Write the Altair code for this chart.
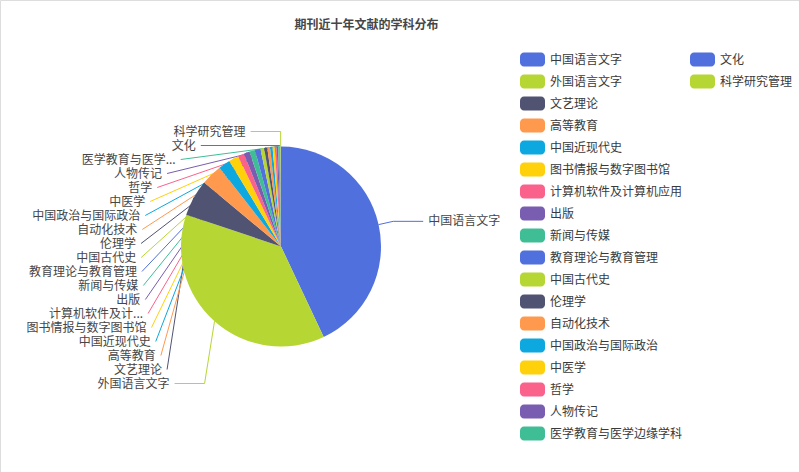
import math
import altair as alt
import pandas as pd

# ---------------- data ----------------
title_text = "期刊近十年文献的学科分布"

categories = [
    "中国语言文字", "外国语言文字", "文艺理论", "高等教育", "中国近现代史",
    "图书情报与数字图书馆", "计算机软件及计算机应用", "出版", "新闻与传媒",
    "教育理论与教育管理", "中国古代史", "伦理学", "自动化技术",
    "中国政治与国际政治", "中医学", "哲学", "人物传记",
    "医学教育与医学边缘学科", "文化", "科学研究管理",
]
values = [860, 744, 118, 68, 38, 32, 20, 19, 18, 18, 12, 10, 9, 8, 7, 6, 5, 4, 3, 2]

# labels as displayed beside the pie (two are shortened in the original)
pie_labels = [
    "中国语言文字", "外国语言文字", "文艺理论", "高等教育", "中国近现代史",
    "图书情报与数字图书馆", "计算机软件及计...", "出版", "新闻与传媒",
    "教育理论与教育管理", "中国古代史", "伦理学", "自动化技术",
    "中国政治与国际政治", "中医学", "哲学", "人物传记",
    "医学教育与医学...", "文化", "科学研究管理",
]

palette = ["#5070dd", "#b6d634", "#505372", "#ff994d", "#0ca8df",
           "#ffd10a", "#fb628b", "#785db0", "#3fbe95"]

# ---------------- layout ----------------
FONT = "Noto Sans CJK SC"
TEXT_COLOR = "#464646"
W, H = 799, 472
CX, CY, R = 281, 246.5, 100
LEN1, LEN2, DIST = 15, 30, 5
LINE_H = 14

colors = [palette[i % len(palette)] for i in range(len(categories))]
total = float(sum(values))

items = []
cum = 0.0
for i, (cat, v) in enumerate(zip(categories, values)):
    a0 = cum / total * 2 * math.pi
    cum += v
    a1 = cum / total * 2 * math.pi
    mid = (a0 + a1) / 2
    sx, sy = math.sin(mid), -math.cos(mid)
    d = -1 if sx < 0 else 1
    x1, y1 = CX + R * sx, CY + R * sy
    x2, y2 = CX + (R + LEN1) * sx, CY + (R + LEN1) * sy
    lx = x2 + d * (LEN2 + DIST)
    items.append(dict(i=i, cat=cat, d=d, nx=sx, ny=sy, x1=x1, y1=y1, x2=x2,
                      lx=lx, ly=y2))

# avoid overlap on each side, then re-align x on an ellipse (echarts-like)
for d in (-1, 1):
    side = sorted([it for it in items if it["d"] == d], key=lambda it: it["ly"])
    shifted = False
    last = None
    for it in side:
        if last is not None and it["ly"] < last + LINE_H:
            it["ly"] = last + LINE_H
            shifted = True
        last = it["ly"]
    if not shifted:
        continue
    rA = R + LEN1
    for semi in ([it for it in side if it["ly"] < CY],
                 [it for it in side if it["ly"] >= CY]):
        if not semi:
            continue
        ref = max(semi, key=lambda it: abs(it["ly"] - CY))
        dy = abs(ref["ly"] - CY)
        dx = ref["lx"] - CX - LEN2 * d
        rB = math.sqrt(dy * dy / (1 - dx * dx / (rA * rA))) if abs(dx) < rA else rA
        for it in semi:
            dyi = abs(it["ly"] - CY)
            dxi = math.sqrt(max(0.0, 1 - dyi * dyi / (rB * rB)) * rA * rA)
            it["lx"] = CX + (dxi + LEN2) * d


def limit_surface_angle(p0, p1, p2, normal, max_angle_deg=90.0):
    """Keep the first segment of a guide line from diving into the pie."""
    ax, ay = p1[0] - p0[0], p1[1] - p0[1]
    bx, by = p2[0] - p1[0], p2[1] - p1[1]
    l1, l2 = math.hypot(ax, ay), math.hypot(bx, by)
    if l1 < 1e-3 or l2 < 1e-3:
        return p1
    ax, ay, bx, by = ax / l1, ay / l1, bx / l2, by / l2
    max_a = math.radians(max_angle_deg)
    if ax * normal[0] + ay * normal[1] >= math.cos(max_a):
        return p1
    # projection of p0 on line p1-p2
    t0 = ((p0[0] - p1[0]) * bx + (p0[1] - p1[1]) * by)
    proj = (p1[0] + bx * t0, p1[1] + by * t0)
    dist = math.hypot(p0[0] - proj[0], p0[1] - proj[1])
    angle2 = math.acos(max(-1.0, min(1.0, bx * normal[0] + by * normal[1])))
    new_angle = math.pi / 2 + angle2 - max_a
    if new_angle >= math.pi / 2:
        return p2
    proj = (proj[0] + bx * dist / math.tan(math.pi / 2 - new_angle),
            proj[1] + by * dist / math.tan(math.pi / 2 - new_angle))
    if p2[0] != p1[0]:
        t = (proj[0] - p1[0]) / (p2[0] - p1[0])
    else:
        t = (proj[1] - p1[1]) / (p2[1] - p1[1])
    if t < 0:
        return p1
    if t > 1:
        return p2
    return proj


pie_df = pd.DataFrame({"cat": categories, "value": values,
                       "idx": list(range(len(categories)))})

line_rows, lab_rows = [], []
for it in items:
    p0 = (it["x1"], it["y1"])
    p2 = (it["lx"] - it["d"] * DIST, it["ly"])
    p1 = (it["x2"], it["ly"])
    p1 = limit_surface_angle(p0, p1, p2, (it["nx"], it["ny"]))
    for k, (px, py) in enumerate([p0, p1, p2]):
        line_rows.append(dict(cat=it["cat"], px=px, py=py, pt=k))
    lab_rows.append(dict(cat=it["cat"], label=pie_labels[it["i"]],
                         lx=it["lx"], ly=it["ly"],
                         side="left" if it["d"] < 0 else "right"))
line_df = pd.DataFrame(line_rows)
lab_df = pd.DataFrame(lab_rows)

# legend: first column of 18 entries, rest in a second column
LEG_X, LEG_COLW, LEG_Y, LEG_ROWH, LEG_ROWS = 520, 170, 59.5, 22, 18
leg_rows = []
for i, cat in enumerate(categories):
    col, row = divmod(i, LEG_ROWS)
    x0 = LEG_X + col * LEG_COLW
    yc = LEG_Y + row * LEG_ROWH
    leg_rows.append(dict(cat=cat, x0=x0, x1=x0 + 25, y0=yc - 7, y1=yc + 7,
                         tx=x0 + 30, ty=yc))
leg_df = pd.DataFrame(leg_rows)

# ---------------- chart ----------------
xs = alt.Scale(domain=[0, W], nice=False, zero=False)
ys = alt.Scale(domain=[0, H], reverse=True, nice=False, zero=False)
cscale = alt.Scale(domain=categories, range=colors)

lines = alt.Chart(line_df).mark_line(strokeWidth=1).encode(
    x=alt.X("px:Q", scale=xs, axis=None),
    y=alt.Y("py:Q", scale=ys, axis=None),
    color=alt.Color("cat:N", scale=cscale, legend=None),
    detail="cat:N",
    order=alt.Order("pt:Q"),
)

pie = alt.Chart(pie_df).mark_arc(outerRadius=R).encode(
    theta=alt.Theta("value:Q", stack=True),
    order=alt.Order("idx:Q"),
    color=alt.Color("cat:N", scale=cscale, legend=None),
    x=alt.value(CX),
    y=alt.value(CY),
)

left_text = alt.Chart(lab_df).transform_filter(
    alt.datum.side == "left"
).mark_text(align="right", baseline="middle", fontSize=12,
            color=TEXT_COLOR, font=FONT).encode(
    x=alt.X("lx:Q", scale=xs, axis=None),
    y=alt.Y("ly:Q", scale=ys, axis=None),
    text="label:N",
)

right_text = alt.Chart(lab_df).transform_filter(
    alt.datum.side == "right"
).mark_text(align="left", baseline="middle", fontSize=12,
            color=TEXT_COLOR, font=FONT).encode(
    x=alt.X("lx:Q", scale=xs, axis=None),
    y=alt.Y("ly:Q", scale=ys, axis=None),
    text="label:N",
)

leg_sw = alt.Chart(leg_df).mark_rect(cornerRadius=4).encode(
    x=alt.X("x0:Q", scale=xs, axis=None),
    x2="x1:Q",
    y=alt.Y("y0:Q", scale=ys, axis=None),
    y2="y1:Q",
    color=alt.Color("cat:N", scale=cscale, legend=None),
)

leg_tx = alt.Chart(leg_df).mark_text(align="left", baseline="middle",
                                     fontSize=12, color="#3a3a3a",
                                     font=FONT).encode(
    x=alt.X("tx:Q", scale=xs, axis=None),
    y=alt.Y("ty:Q", scale=ys, axis=None),
    text="cat:N",
)

title = alt.Chart(pd.DataFrame({"t": [title_text]})).mark_text(
    align="center", baseline="middle", fontSize=12, fontWeight="bold",
    color=TEXT_COLOR, font=FONT
).encode(
    text="t:N",
    x=alt.value(366.5),
    y=alt.value(24.5),
)

chart = alt.layer(lines, pie, left_text, right_text, leg_sw, leg_tx, title).properties(
    width=W, height=H, padding=0,
    autosize=alt.AutoSizeParams(type="none"),
).configure_view(strokeWidth=0).configure(font=FONT)

chart.save("out.html", embed_options={"renderer": "svg", "actions": False})
